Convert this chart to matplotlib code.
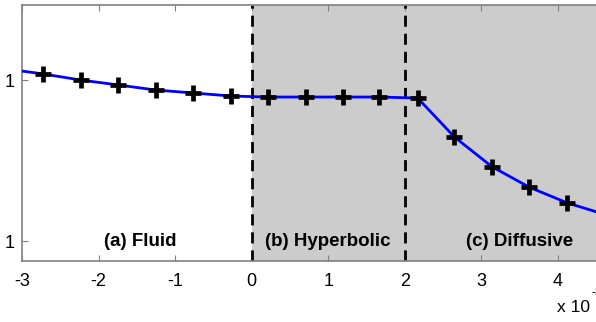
import matplotlib
matplotlib.use("Agg")
import matplotlib.pyplot as plt
from matplotlib.ticker import FixedLocator, FixedFormatter

plt.rcParams['font.family'] = ['Liberation Sans', 'DejaVu Sans']

# marker data
x_pts = [-2.72, -2.235, -1.74, -1.255, -0.77, -0.27, 0.21, 0.71, 1.19, 1.67, 2.17, 2.65, 3.14, 3.63, 4.12]
y_pts = [1.0461, 1.0414, 1.0375, 1.0336, 1.0313, 1.0289, 1.0281, 1.0281, 1.0281, 1.0281, 1.0273, 0.9969, 0.9737, 0.9576, 0.9455]
# line data (markers plus ends)
x_line = [-3.0] + x_pts + [4.5]
y_line = [1.0484] + y_pts + [0.9385]

regions = ["(a) Fluid", "(b) Hyperbolic", "(c) Diffusive"]
region_x = [-1.46, 1.0, 3.5]
boundaries = [0, 2]
xticks = [-3, -2, -1, 0, 1, 2, 3, 4]
yticks = [0.9156, 1.0414]
ytick_labels = ["1", "1"]

fig = plt.figure(figsize=(5.96, 3.22), dpi=100)
ax = fig.add_axes([22/596, 61/322, 574/596, 256/322])
ax.set_xlim(-3, 4.5)
ax.set_ylim(0.9, 1.1)

ax.axvspan(0, 4.5, color='#cccccc', zorder=0, lw=0)
for b in boundaries:
    ax.axvline(b, color='black', lw=2, ls=(0, (4, 2.5)), zorder=2)

ax.plot(x_line, y_line, color='#0000ff', lw=2, zorder=3)
ax.plot(x_pts, y_pts, ls='none', marker='+', ms=11, mew=3.4, color='black', zorder=4)

for t, xx in zip(regions, region_x):
    ax.text(xx, yticks[0], t, ha='center', va='center', fontsize=13.5, fontweight='bold')

ax.xaxis.set_major_locator(FixedLocator(xticks))
ax.set_xticklabels([str(v) for v in xticks])
ax.yaxis.set_major_locator(FixedLocator(yticks))
ax.yaxis.set_major_formatter(FixedFormatter(ytick_labels))
ax.tick_params(direction='in', length=4, color='#808080', labelsize=13, top=True)
ax.tick_params(axis='x', pad=9)
ax.tick_params(axis='y', pad=5)
for s in ['left', 'bottom', 'top']:
    ax.spines[s].set_color('#808080')
    ax.spines[s].set_linewidth(1.2)
ax.spines['right'].set_visible(False)

fig.text(557/596, 1 - 308/322, "x 10", fontsize=12.5, ha='left', va='center')
fig.text(592/596, 1 - 293/322, "-3", fontsize=9, ha='left', va='center')

fig.savefig("out.png", dpi=100)
